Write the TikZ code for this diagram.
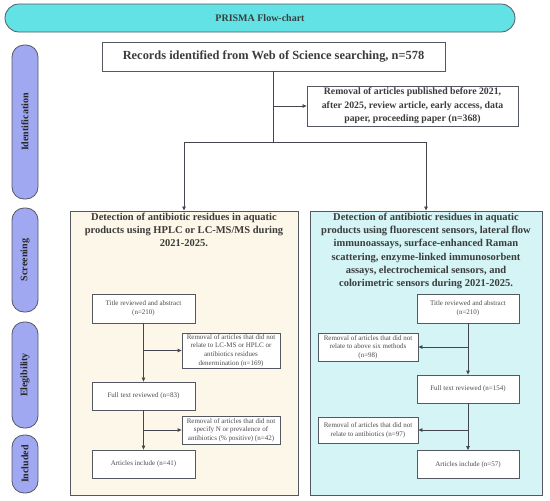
\documentclass[tikz,border=0pt]{standalone}
\usepackage{fontspec}
\setmainfont{Liberation Serif}
\definecolor{BannerCyan}{RGB}{98,226,228}
\definecolor{StageBlue}{RGB}{160,168,242}
\definecolor{PanelCream}{RGB}{252,247,232}
\definecolor{PanelCyan}{RGB}{212,244,245}
\definecolor{EdgeGray}{RGB}{84,88,96}
\definecolor{InkGray}{RGB}{60,60,60}
\usetikzlibrary{arrows.meta, positioning, calc}

\begin{document}
\begin{tikzpicture}[x=1pt, y=-1pt,
  stage/.style={draw=EdgeGray, fill=StageBlue, line width=0.8pt, rounded corners=12pt,
                minimum height=26pt, inner sep=0pt, rotate=90, text=black!85,
                font=\fontsize{10}{12}\selectfont\bfseries},
  panel/.style={draw=EdgeGray, line width=0.9pt, minimum width=#1, minimum height=284pt, inner sep=0pt},
  headtext/.style={align=center, text=InkGray, inner sep=0pt,
                   font=\fontsize{10.5}{13.2}\selectfont\bfseries},
  bigbox/.style={draw=EdgeGray, fill=white, line width=0.8pt, align=center, inner sep=0pt,
                 text=InkGray, font=\fontsize{9.8}{13.5}\selectfont\bfseries},
  stepbox/.style={draw=EdgeGray, fill=white, line width=0.8pt, align=center, inner sep=0pt,
                  minimum width=103pt, minimum height=28pt, text=black!70,
                  font=\fontsize{7}{8.6}\selectfont},
  link/.style={draw=EdgeGray!80!black, line width=0.8pt},
  flow/.style={link, -{Triangle[length=4pt, width=3.5pt]}}]

\useasboundingbox (0,0) rectangle (550,501);

\node[draw=EdgeGray, fill=BannerCyan, line width=0.8pt, rounded corners=14pt,
      minimum width=510pt, minimum height=28pt, inner sep=0pt,
      font=\fontsize{10}{12}\selectfont\bfseries, text=InkGray] (banner) at (260,18) {PRISMA Flow-chart};

\node[stage, minimum width=154pt] (identification) at (25,122) {Identification};
\node[stage, minimum width=104pt] (screening) at (25,260) {Screening};
\node[stage, minimum width=106pt] (eligibility) at (25,375) {Elegibility};
\node[stage, minimum width=58pt] (included) at (25,464) {Included};

\node[bigbox, minimum width=343pt, minimum height=29pt, font=\fontsize{12.4}{14}\selectfont\bfseries]
  (records) at (273.5,56.5) {Records identified from Web of Science searching, n=578};
\node[bigbox, minimum width=211pt, minimum height=40pt] (removal) at (412.5,106)
  {Removal of articles published before 2021,\\ after 2025, review article, early access, data\\ paper, proceeding paper (n=368)};

\node[panel=228pt, fill=PanelCream] (leftpanel) at (184,353) {};
\node[panel=232pt, fill=PanelCyan] (rightpanel) at (426,353) {};

\node[headtext, anchor=north] (lefthead) at (184,213)
  {Detection of antibiotic residues in aquatic\\ products using HPLC or LC-MS/MS during\\ 2021-2025.};
\node[headtext, anchor=north] (righthead) at (426,213)
  {Detection of antibiotic residues in aquatic\\ products using fluorescent sensors, lateral flow\\ immunoassays, surface-enhanced Raman\\ scattering, enzyme-linked immunosorbent\\ assays, electrochemical sensors, and\\ colorimetric sensors during 2021-2025.};

\node[stepbox, minimum height=29pt] (ltitle) at (143.5,308.5) {Title reviewed and abstract\\ (n=210)};
\node[stepbox, minimum width=98pt, minimum height=35pt] (lremove1) at (231,350.5)
  {Removal of articles that did not\\ relate to LC-MS or HPLC or\\ antibiotics residues\\ denermination (n=169)};
\node[stepbox] (lfull) at (143.5,396) {Full text reviewed (n=83)};
\node[stepbox, minimum width=98pt] (lremove2) at (231,430)
  {Removal of articles that did not\\ specify N or prevalence of\\ antibiotics (\% positive) (n=42)};
\node[stepbox] (larticles) at (143.5,464) {Articles include (n=41)};

\node[stepbox, minimum width=102pt, minimum height=29pt] (rtitle) at (468,308.5) {Title reviewed and abstract\\ (n=210)};
\node[stepbox, minimum width=100pt] (rremove1) at (368,347)
  {Removal of articles that did not\\ relate to above six methods\\ (n=98)};
\node[stepbox, minimum width=102pt] (rfull) at (468,389) {Full text reviewed (n=154)};
\node[stepbox, minimum width=100pt, minimum height=26pt] (rremove2) at (368,430)
  {Removal of articles that did not\\ relate to antibiotics (n=97)};
\node[stepbox, minimum width=102pt] (rarticles) at (468,464.5) {Articles include (n=57)};

\coordinate (split) at (records.south |- 0,142);
\draw[link] (records.south) -- (split);
\draw[flow] (records.south |- removal.west) -- (removal.west);
\draw[flow] (split) -| (leftpanel.north);
\draw[flow] (split) -| (rightpanel.north);

\draw[flow] (ltitle) -- (lfull);
\draw[flow] (ltitle.south |- lremove1.west) -- (lremove1.west);
\draw[flow] (lfull) -- (larticles);
\draw[flow] (lfull.south |- lremove2.west) -- (lremove2.west);

\draw[flow] (rtitle) -- (rfull);
\draw[flow] (rtitle.south |- rremove1.east) -- (rremove1.east);
\draw[flow] (rfull) -- (rarticles);
\draw[flow] (rfull.south |- rremove2.east) -- (rremove2.east);
\end{tikzpicture}
\end{document}
